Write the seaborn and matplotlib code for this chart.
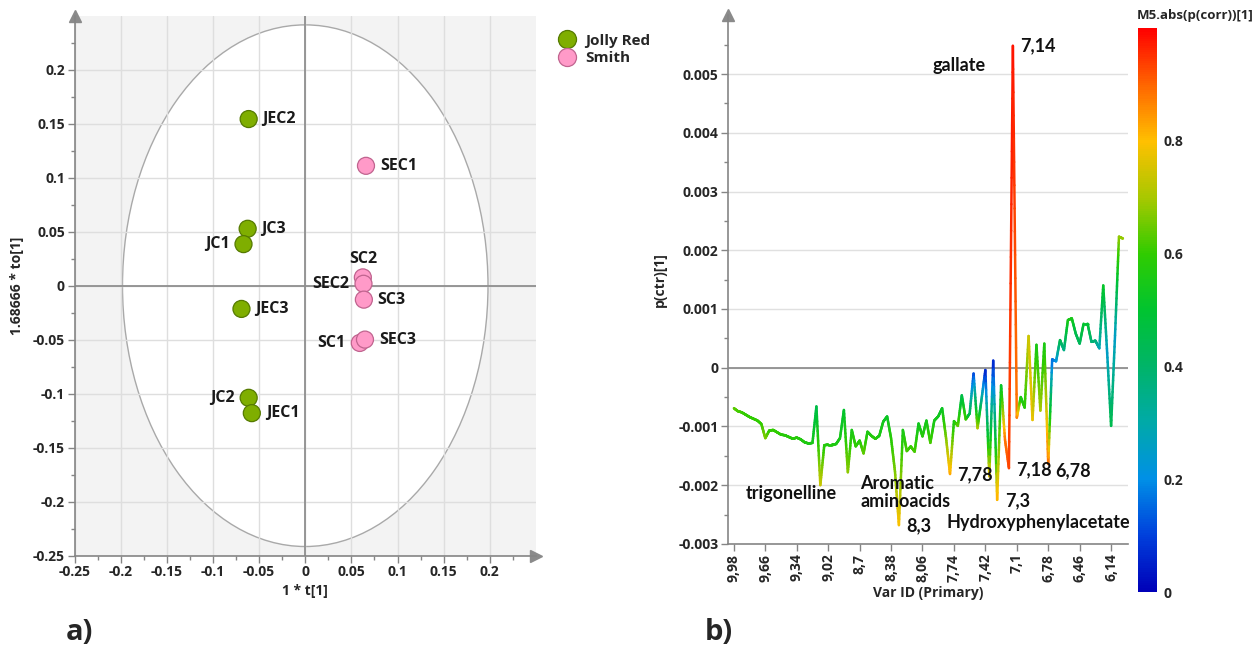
import numpy as np
import matplotlib
matplotlib.use("Agg")
import matplotlib.pyplot as plt
import seaborn as sns
import pandas as pd
from matplotlib.patches import Ellipse
from matplotlib.lines import Line2D
from matplotlib.collections import LineCollection
from matplotlib.colors import LinearSegmentedColormap, Normalize

# ---------------- a) score plot data
sample_names = ["JEC2", "JC3", "JC1", "JEC3", "JC2", "JEC1",
                "SEC1", "SC2", "SEC2", "SC3", "SC1", "SEC3"]
sample_group = ["Jolly Red"] * 6 + ["Smith"] * 6
t1 = [-0.0613, -0.0624, -0.0669, -0.0691, -0.0613, -0.0579,
      0.0658, 0.0624, 0.0631, 0.0635, 0.0591, 0.0647]
to1 = [0.1543, 0.0527, 0.0385, -0.0215, -0.1038, -0.1180,
       0.1110, 0.0077, 0.0018, -0.0129, -0.0530, -0.0499]
label_side = ["r", "r", "l", "r", "l", "r", "r", "t", "l", "r", "l", "r"]
group_fill = {"Jolly Red": "#7fae00", "Smith": "#ff9ac8"}
group_edge = {"Jolly Red": "#557a00", "Smith": "#c0648f"}
ell_a, ell_b = 0.198, 0.2415
score_ticks = [-0.25, -0.2, -0.15, -0.1, -0.05, 0, 0.05, 0.1, 0.15, 0.2]
score_tick_labels = ["-0.25", "-0.2", "-0.15", "-0.1", "-0.05", "0",
                     "0.05", "0.1", "0.15", "0.2"]

# ---------------- b) loading line data (p(ctr)[1] x1e-3, abs(p(corr)))
p_ctr = [-0.69, -0.74, -0.76, -0.80, -0.84, -0.87, -0.90, -0.96, -1.20, -1.07,
         -1.06, -1.10, -1.14, -1.15, -1.18, -1.21, -1.19, -1.22, -1.27, -1.29,
         -1.28, -0.66, -2.00, -1.32, -1.31, -1.31, -1.30, -1.20, -0.72, -1.78,
         -1.06, -1.34, -1.24, -1.46, -1.09, -1.16, -1.21, -1.16, -0.92, -0.83,
         -1.20, -1.77, -2.68, -1.06, -1.42, -1.34, -1.43, -0.95, -1.17, -0.90,
         -1.28, -0.90, -0.83, -0.69, -1.20, -1.81, -0.91, -0.99, -0.47, -0.88,
         -0.78, -0.10, -1.03, -0.55, -0.04, -1.85, 0.12, -2.25, -0.30, -1.23,
         -1.71, 5.48, -0.85, -0.50, -0.68, 0.54, -0.89, 0.39, -0.73, 0.41,
         -1.64, 0.14, 0.11, 0.47, 0.30, 0.81, 0.84, 0.58, 0.41, 0.75,
         0.75, 0.44, 0.46, 0.33, 1.40, 0.25, -0.99, 0.55, 2.23, 2.20]
p_corr_abs = [0.64, 0.62, 0.61, 0.60, 0.60, 0.60, 0.60, 0.60, 0.67, 0.60,
              0.60, 0.60, 0.59, 0.58, 0.58, 0.58, 0.58, 0.57, 0.57, 0.56,
              0.55, 0.45, 0.74, 0.58, 0.57, 0.57, 0.56, 0.55, 0.50, 0.68,
              0.55, 0.60, 0.58, 0.64, 0.56, 0.57, 0.58, 0.56, 0.54, 0.52,
              0.58, 0.66, 0.80, 0.55, 0.62, 0.60, 0.62, 0.53, 0.58, 0.54,
              0.62, 0.55, 0.54, 0.52, 0.66, 0.83, 0.55, 0.64, 0.45, 0.62,
              0.45, 0.10, 0.72, 0.35, 0.05, 0.78, 0.05, 0.82, 0.50, 0.88,
              0.93, 0.98, 0.88, 0.55, 0.58, 0.74, 0.78, 0.55, 0.70, 0.55,
              0.90, 0.15, 0.20, 0.45, 0.35, 0.55, 0.55, 0.45, 0.42, 0.50,
              0.50, 0.38, 0.38, 0.28, 0.52, 0.25, 0.45, 0.25, 0.68, 0.68]
var_tick_pos = [0, 8, 16, 24, 32, 40, 48, 56, 64, 72, 80, 88, 96]
var_tick_labels = ["9,98", "9,66", "9,34", "9,02", "8,7", "8,38", "8,06",
                   "7,74", "7,42", "7,1", "6,78", "6,46", "6,14"]
load_ticks = [-0.003, -0.002, -0.001, 0, 0.001, 0.002, 0.003, 0.004, 0.005]
load_tick_labels = ["-0.003", "-0.002", "-0.001", "0", "0.001", "0.002",
                    "0.003", "0.004", "0.005"]
annot_text = ["gallate", "7,14", "trigonelline", "Aromatic\naminoacids", "8,3",
              "7,78", "7,3", "7,18", "6,78", "Hydroxyphenylacetate"]
annot_x = [50.5, 72.9, 3.1, 32.1, 43.8, 56.8, 69.1, 71.8, 81.8, 54.1]
annot_y = [0.00515, 0.00548, -0.00214, -0.00213, -0.00269, -0.00183,
           -0.00226, -0.00173, -0.00176, -0.00264]
cbar_ticks = [0, 0.2, 0.4, 0.6, 0.8]
cbar_tick_labels = ["0", "0.2", "0.4", "0.6", "0.8"]

sns.set_theme(style="white")
plt.rcParams['font.family'] = ['Open Sans', 'DejaVu Sans']
plt.rcParams['font.weight'] = 'bold'

W, H = 1257, 648
fig = plt.figure(figsize=(W / 100, H / 100), dpi=100)
axis_grey = '#858585'


def frac(x0, y_top, w, h):
    return [x0 / W, 1 - (y_top + h) / H, w / W, h / H]


# ======== a) score scatter
ax1 = fig.add_axes(frac(74.5, 15.7, 461.5, 540))
ax1.set_facecolor('#f3f3f3')
ax1.add_patch(Ellipse((0, 0), 2 * ell_a, 2 * ell_b, facecolor='white',
                      edgecolor='#a9a9a9', lw=1.0, zorder=0.3))
ax1.set_axisbelow(True)
ax1.grid(True, color='#dedede', lw=1.0)
ax1.axhline(0, color='#8f8f8f', lw=1.3, zorder=0.6)
ax1.axvline(0, color='#8f8f8f', lw=1.3, zorder=0.6)

df = pd.DataFrame({"t1": t1, "to1": to1, "group": sample_group, "name": sample_names})
sns.scatterplot(data=df, x="t1", y="to1", hue="group", palette=group_fill,
                s=150, linewidth=0.9, legend=False, ax=ax1, zorder=3)
ax1.collections[-1].set_edgecolors([group_edge[g] for g in sample_group])

offsets = {"r": (10, 0, 'left', 'center'), "l": (-10, 0, 'right', 'center'),
           "t": (0, 13, 'center', 'center')}
for nm, xx, yy, side in zip(sample_names, t1, to1, label_side):
    dx, dy, ha, va = offsets[side]
    ax1.annotate(nm, (xx, yy), xytext=(dx, dy), textcoords='offset points',
                 ha=ha, va=va, fontsize=11.5, fontweight='bold', color='#1a1a1a', zorder=4)

ax1.set_xlim(-0.25, 0.25)
ax1.set_ylim(-0.25, 0.25)
ax1.set_xticks(score_ticks)
ax1.set_xticklabels(score_tick_labels)
ax1.set_yticks(score_ticks)
ax1.set_yticklabels(score_tick_labels)
ax1.set_yticks(list(np.array(score_ticks[:-1]) + 0.025) + [0.225], minor=True)
ax1.set_xticks(list(np.array(score_ticks[:-1]) + 0.025) + [0.225], minor=True)
ax1.tick_params(which='major', direction='out', length=5, width=1, color=axis_grey,
                labelsize=10, pad=2, bottom=True, left=True)
ax1.tick_params(which='minor', direction='out', length=3, width=1, color=axis_grey,
                bottom=True, left=True)
ax1.grid(False, which='minor')
for s in ['top', 'right']:
    ax1.spines[s].set_visible(False)
for s in ['left', 'bottom']:
    ax1.spines[s].set_color(axis_grey)
    ax1.spines[s].set_linewidth(1.2)
ax1.plot(0, 1, marker='^', ms=8, color='#8a8a8a', transform=ax1.transAxes, clip_on=False)
ax1.plot(1, 0, marker='>', ms=8, color='#8a8a8a', transform=ax1.transAxes, clip_on=False)
ax1.set_xlabel("1 * t[1]", fontsize=10, fontweight='bold', labelpad=3)
ax1.set_ylabel("1.68666 * to[1]", fontsize=10, fontweight='bold', labelpad=6)

handles = [Line2D([], [], ls='none', marker='o', ms=13, markerfacecolor=group_fill[g],
                  markeredgecolor=group_edge[g], markeredgewidth=0.9, label=g)
           for g in ["Jolly Red", "Smith"]]
fig.legend(handles=handles, loc='upper left', bbox_to_anchor=(544 / W, 1 - 26 / H),
           frameon=False, handletextpad=0.2, borderpad=0,
           labelspacing=0.25, prop={'weight': 'bold', 'size': 11})

# ======== b) loading line
ax2 = fig.add_axes(frac(728, 15.3, 400, 528.6))
cmap = LinearSegmentedColormap.from_list("simca", [
    (0.0, '#0000b8'), (0.1, '#0040dc'), (0.2, '#0090e6'), (0.3, '#00aaa8'),
    (0.4, '#00b468'), (0.5, '#00c430'), (0.6, '#30cc00'), (0.7, '#a8c800'),
    (0.8, '#ffc000'), (0.9, '#ff6600'), (1.0, '#ff0000')])
norm = Normalize(0, 1)

xi = np.arange(len(p_ctr))
yv = np.array(p_ctr) * 1e-3
cv = np.array(p_corr_abs)
# split every segment into short pieces so the colour runs as a gradient
sub = 16
u = np.linspace(0, len(xi) - 1, (len(xi) - 1) * sub + 1)
pts = np.column_stack([u, np.interp(u, xi, yv)])
cf = np.interp(u, xi, cv)
segs = np.stack([pts[:-1], pts[1:]], axis=1)
lc = LineCollection(segs, cmap=cmap, norm=norm, linewidths=1.8, capstyle='round', zorder=3)
lc.set_array((cf[:-1] + cf[1:]) / 2)
ax2.add_collection(lc)

ax2.set_xlim(-1.5, 100.3)
ax2.set_ylim(-0.003, 0.006)
ax2.set_yticks(load_ticks)
ax2.set_yticklabels(load_tick_labels)
ax2.set_yticks(np.array(load_ticks) + 0.0005, minor=True)
ax2.set_xticks(var_tick_pos)
ax2.set_xticklabels(var_tick_labels, rotation=90)
ax2.grid(True, axis='y', color='#e0e0e0', lw=1.0)
ax2.grid(False, axis='x')
ax2.set_axisbelow(True)
ax2.axhline(0, color='#8f8f8f', lw=1.3, zorder=1)
ax2.tick_params(which='major', direction='out', length=5, width=1, color=axis_grey,
                labelsize=10, pad=2, bottom=True, left=True)
ax2.tick_params(which='minor', direction='out', length=3, width=1, color=axis_grey, left=True)
for s in ['top', 'right']:
    ax2.spines[s].set_visible(False)
for s in ['left', 'bottom']:
    ax2.spines[s].set_color(axis_grey)
    ax2.spines[s].set_linewidth(1.2)
ax2.plot(0, 1, marker='^', ms=8, color='#8a8a8a', transform=ax2.transAxes, clip_on=False)
ax2.set_xlabel("Var ID (Primary)", fontsize=10, fontweight='bold', labelpad=3)
ax2.set_ylabel("p(ctr)[1]", fontsize=10, fontweight='bold', labelpad=8)

for txt, xx, yy in zip(annot_text, annot_x, annot_y):
    ax2.text(xx, yy, txt, ha='left', va='center', fontsize=13, fontweight='bold',
             family=['Lato', 'DejaVu Sans'], color='#111111', linespacing=1.05, zorder=5)

cax = fig.add_axes(frac(1138, 28, 19, 564))
cb = fig.colorbar(lc, cax=cax)
cb.outline.set_visible(False)
cb.set_ticks(cbar_ticks)
cb.set_ticklabels(cbar_tick_labels)
cax.tick_params(length=0, pad=5, labelsize=10)
for lab in cax.get_yticklabels():
    lab.set_fontweight('bold')
fig.text(1254 / W, 1 - 16 / H, "M5.abs(p(corr))[1]", fontsize=9.5, fontweight='bold',
         ha='right', va='center')

fig.text(66 / W, 1 - 633 / H, "a)", fontsize=21, fontweight='bold', va='center')
fig.text(705 / W, 1 - 633 / H, "b)", fontsize=21, fontweight='bold', va='center')

fig.savefig("out.png", dpi=100)
